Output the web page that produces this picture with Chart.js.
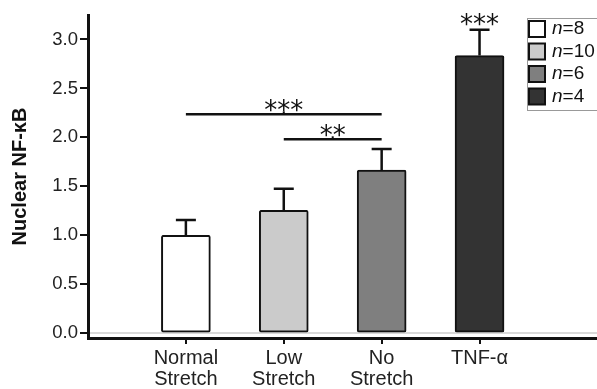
<!DOCTYPE html>
<html>
<head>
<meta charset="utf-8">
<script src="https://cdn.jsdelivr.net/npm/chart.js@4"></script>
<style>
html, body { margin: 0; padding: 0; background: #fff; }
</style>
</head>
<body>
<canvas id="grafico" width="597" height="389"></canvas>
<script>
// dados
var categorias = [["Normal", "Stretch"], ["Low", "Stretch"], ["No", "Stretch"], "TNF-α"];
var posicoes = [1, 2, 3, 4];
var medias = [1.0, 1.255, 1.665, 2.835];
var erros = [0.155, 0.22, 0.215, 0.265];
var nAmostras = ["8", "10", "6", "4"];
var cores = ["#ffffff", "#cbcbcb", "#7f7f7f", "#333333"];
var yTicks = [0, 0.5, 1, 1.5, 2, 2.5, 3];

// comparacoes de significancia
var sigDe = [1, 2];
var sigAte = [3, 3];
var sigAltura = [2.235, 1.98];
var sigTexto = ["***", "**"];
var tnfTexto = "***";

var pluginExtras = {
  id: "extras",
  afterDatasetsDraw: function (chart) {
    var c = chart.ctx;
    var x = chart.scales.x;
    var y = chart.scales.y;
    c.save();
    c.strokeStyle = "#111";
    c.lineWidth = 2.5;

    // barras de erro
    for (var i = 0; i < medias.length; i++) {
      var px = x.getPixelForValue(posicoes[i]);
      var y0 = y.getPixelForValue(medias[i]);
      var y1 = y.getPixelForValue(medias[i] + erros[i]);
      c.beginPath();
      c.moveTo(px, y0);
      c.lineTo(px, y1);
      c.moveTo(px - 10, y1);
      c.lineTo(px + 10, y1);
      c.stroke();
    }

    // linhas de significancia
    c.font = "26px 'DejaVu Sans'";
    c.fillStyle = "#111";
    c.textAlign = "center";
    c.textBaseline = "alphabetic";
    for (var j = 0; j < sigDe.length; j++) {
      var xa = x.getPixelForValue(sigDe[j]);
      var xb = x.getPixelForValue(sigAte[j]);
      var py = y.getPixelForValue(sigAltura[j]);
      c.lineWidth = 2.5;
      c.beginPath();
      c.moveTo(xa, py);
      c.lineTo(xb, py);
      c.stroke();
      var meio = (xa + xb) / 2;
      c.lineWidth = 2;
      c.beginPath();
      c.moveTo(meio, py);
      c.lineTo(meio, py - 3);
      c.stroke();
      c.fillText(sigTexto[j], meio, py + 5);
    }

    // asteriscos do TNF
    var xt = x.getPixelForValue(posicoes[3]);
    var yt = y.getPixelForValue(medias[3] + erros[3]);
    c.fillText(tnfTexto, xt, yt + 3);

    // legenda
    c.lineWidth = 1;
    c.strokeStyle = "#999";
    c.strokeRect(527.5, 18.5, 80, 92);
    for (var k = 0; k < nAmostras.length; k++) {
      var cy = 29 + k * 22.5;
      c.fillStyle = cores[k];
      c.fillRect(529, cy - 8, 16, 16);
      c.lineWidth = 2;
      c.strokeStyle = "#111";
      c.strokeRect(529, cy - 8, 16, 16);
      c.fillStyle = "#111";
      c.textAlign = "left";
      c.textBaseline = "middle";
      c.font = "italic 19px 'Liberation Sans'";
      c.fillText("n", 552, cy);
      var w = c.measureText("n").width;
      c.font = "19px 'Liberation Sans'";
      c.fillText("=" + nAmostras[k], 552 + w, cy);
    }
    c.restore();
  }
};

var graf = document.getElementById("grafico").getContext("2d");
var grafico = new Chart(graf, {
  type: "bar",
  data: {
    datasets: [
      {
        data: posicoes.map(function (p, i) { return { x: p, y: medias[i] }; }),
        backgroundColor: cores,
        borderColor: "#111",
        borderWidth: 2,
        borderRadius: 2,
        borderSkipped: false,
        barThickness: 49
      }
    ]
  },
  options: {
    responsive: false,
    animation: false,
    layout: { padding: { top: 15, right: 0, left: 0, bottom: 0 } },
    plugins: {
      legend: { display: false },
      tooltip: { enabled: false }
    },
    scales: {
      x: {
        type: "linear",
        min: 0,
        max: 5.2,
        offset: false,
        afterBuildTicks: function (s) { s.ticks = posicoes.map(function (v) { return { value: v }; }); },
        afterFit: function (s) { s.height = 51; },
        grid: { offset: false, drawOnChartArea: false, color: "#111", lineWidth: 2, tickLength: 6 },
        border: { color: "#111", width: 3 },
        ticks: {
          callback: function (v) { return categorias[posicoes.indexOf(v)]; },
          font: { family: "Liberation Sans", size: 20, lineHeight: 1.05 },
          color: "#222",
          padding: 4,
          maxRotation: 0,
          autoSkip: false
        }
      },
      y: {
        min: -0.05,
        max: 3.25,
        afterBuildTicks: function (s) { s.ticks = yTicks.map(function (v) { return { value: v }; }); },
        afterFit: function (s) { s.width = 88; },
        grid: {
          color: function (ctx) { return ctx.tick && ctx.tick.value === 0 ? "#d9d9d9" : "rgba(0,0,0,0)"; },
          tickColor: "#111",
          lineWidth: 2,
          tickLength: 8
        },
        border: { color: "#111", width: 3 },
        ticks: {
          callback: function (v) { return v.toFixed(1); },
          font: { family: "Liberation Sans", size: 18.5 },
          color: "#222",
          padding: 2
        },
        title: {
          display: true,
          text: "Nuclear NF-κB",
          font: { family: "Liberation Sans", size: 20, weight: "bold" },
          color: "#111",
          padding: { top: 8, bottom: 0 }
        }
      }
    }
  },
  plugins: [pluginExtras]
});
</script>
</body>
</html>
